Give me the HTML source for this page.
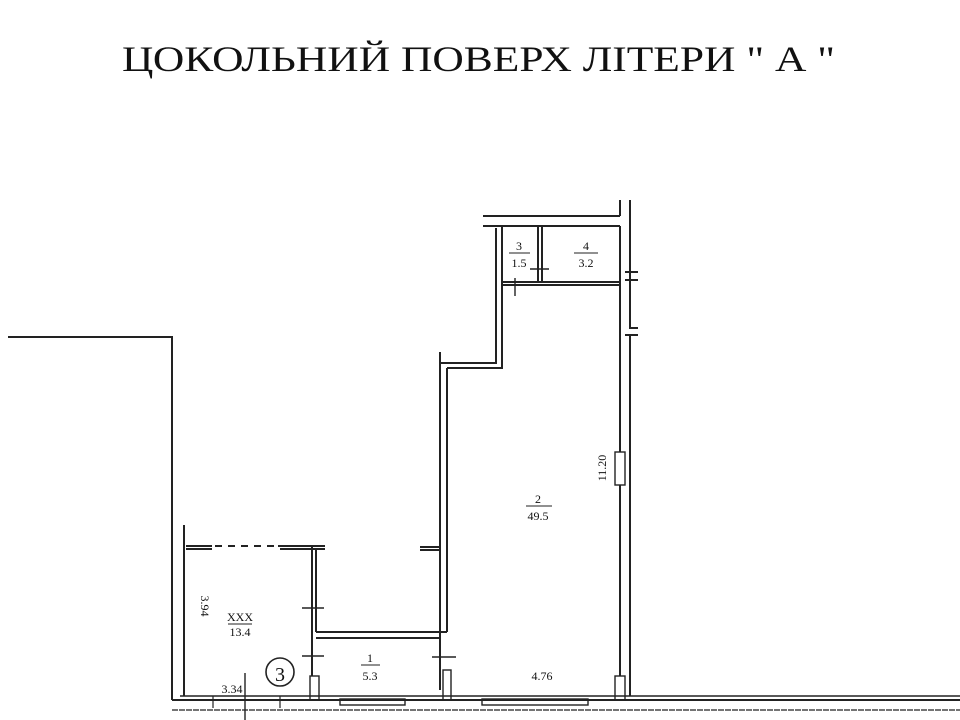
<!DOCTYPE html>
<html><head><meta charset="utf-8"><style>
html,body{margin:0;padding:0;background:#fff;width:960px;height:720px;overflow:hidden}
svg{display:block}
text{font-family:"Liberation Serif",serif;fill:#111}
</style></head><body>
<svg width="960" height="720" viewBox="0 0 960 720" xmlns="http://www.w3.org/2000/svg">
<text x="122" y="71" font-size="36" textLength="713" lengthAdjust="spacingAndGlyphs">ЦОКОЛЬНИЙ ПОВЕРХ ЛІТЕРИ " А "</text>
<g stroke="#222" stroke-width="2" fill="none">
<polyline points="8,337 172,337 172,700"/>
<line x1="172" y1="700" x2="960" y2="700"/>
<line x1="180" y1="696" x2="960" y2="696" stroke-width="1.4"/>
<line x1="172" y1="710" x2="960" y2="710" stroke-width="1.2" stroke-dasharray="6 1"/>
<rect x="340" y="699" width="65" height="6" stroke-width="1.4"/>
<rect x="482" y="699" width="106" height="6" stroke-width="1.4"/>
<line x1="213" y1="696" x2="213" y2="708" stroke-width="1.2"/>
<line x1="280" y1="696" x2="280" y2="708" stroke-width="1.2"/>
<line x1="184" y1="525" x2="184" y2="696"/>
<line x1="186" y1="546" x2="212" y2="546"/>
<line x1="186" y1="549" x2="212" y2="549"/>
<line x1="215" y1="546" x2="280" y2="546" stroke-dasharray="7 6"/>
<line x1="278" y1="546" x2="325" y2="546"/>
<line x1="280" y1="549" x2="325" y2="549"/>
<line x1="312" y1="546" x2="312" y2="676"/>
<line x1="316" y1="549" x2="316" y2="632"/>
<rect x="310" y="676" width="9" height="24" stroke-width="1.4"/>
<line x1="302" y1="608" x2="324" y2="608" stroke-width="1.4"/>
<line x1="302" y1="656" x2="324" y2="656" stroke-width="1.4"/>
<line x1="316" y1="632" x2="447" y2="632"/>
<line x1="316" y1="638" x2="440" y2="638"/>
<line x1="440" y1="352" x2="440" y2="690"/>
<line x1="447" y1="368" x2="447" y2="632"/>
<rect x="443" y="670" width="8" height="30" stroke-width="1.4"/>
<line x1="432" y1="657" x2="456" y2="657" stroke-width="1.4"/>
<line x1="420" y1="547" x2="440" y2="547"/>
<line x1="420" y1="550" x2="440" y2="550"/>
<polyline points="447,368 502,368 502,284"/>
<polyline points="440,352 440,363 496,363 496,228"/>
<line x1="483" y1="216" x2="620" y2="216"/>
<line x1="483" y1="226" x2="620" y2="226"/>
<line x1="620" y1="200" x2="620" y2="216"/>
<line x1="502" y1="226" x2="502" y2="284"/>
<line x1="538" y1="226" x2="538" y2="282"/>
<line x1="542" y1="226" x2="542" y2="282"/>
<line x1="502" y1="282" x2="620" y2="282"/>
<line x1="502" y1="285" x2="620" y2="285"/>
<line x1="530" y1="269" x2="549" y2="269" stroke-width="1.4"/>
<line x1="515" y1="278" x2="515" y2="296" stroke-width="1.4"/>
<line x1="620" y1="226" x2="620" y2="452"/>
<line x1="620" y1="485" x2="620" y2="676"/>
<rect x="615" y="452" width="10" height="33" stroke-width="1.4"/>
<rect x="615" y="676" width="10" height="24" stroke-width="1.4"/>
<polyline points="630,200 630,328 638,328"/>
<line x1="630" y1="335" x2="630" y2="696"/>
<line x1="625" y1="335" x2="638" y2="335"/>
<line x1="625" y1="272" x2="638" y2="272"/>
<line x1="625" y1="280" x2="638" y2="280"/>
<line x1="245" y1="673" x2="245" y2="720" stroke-width="1.4"/>
<circle cx="280" cy="672" r="14" stroke-width="1.6"/>
</g>
<g font-size="12" text-anchor="middle">
<text x="519" y="250">3</text><line x1="509" y1="253" x2="530" y2="253" stroke="#222"/><text x="519" y="267">1.5</text>
<text x="586" y="250">4</text><line x1="574" y1="253" x2="598" y2="253" stroke="#222"/><text x="586" y="267">3.2</text>
<text x="538" y="503">2</text><line x1="526" y1="506" x2="552" y2="506" stroke="#222"/><text x="538" y="520">49.5</text>
<text x="240" y="621">XXX</text><line x1="228" y1="624" x2="252" y2="624" stroke="#222"/><text x="240" y="636">13.4</text>
<text x="370" y="662">1</text><line x1="361" y1="665" x2="380" y2="665" stroke="#222"/><text x="370" y="680">5.3</text>
<text x="542" y="680">4.76</text>
<text x="232" y="693">3.34</text>
<text x="280" y="681" font-size="20">3</text>
<text transform="translate(606,468) rotate(-90)">11.20</text>
<text transform="translate(201,606) rotate(90)">3.94</text>
</g>
</svg>
</body></html>
